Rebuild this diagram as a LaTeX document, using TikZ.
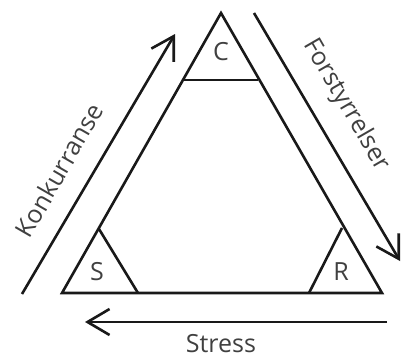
\documentclass[tikz,border=0pt]{standalone}
\usepackage{fontspec}
\setmainfont{Open Sans}
\usetikzlibrary{arrows.meta}
\begin{document}
\begin{tikzpicture}[x=1pt,y=-1pt,
  edge/.style={line width=2.6pt,draw=black!90,line join=miter},
  flow/.style={line width=2.6pt,draw=black!90,-{Straight Barb[length=22pt,width=26pt,line width=2.6pt]}},
  lbl/.style={text=black!75,font=\fontsize{25}{30}\selectfont,inner sep=0pt}]
\useasboundingbox (0,0) rectangle (403,359);
% triangle
\coordinate (A) at (221,13);
\coordinate (B) at (62,293);
\coordinate (D) at (382,293);
\coordinate (c1) at (184,80);
\coordinate (c2) at (258,80);
\coordinate (s1) at (99,229);
\coordinate (s2) at (138,293);
\coordinate (r1) at (342,228);
\coordinate (r2) at (309,293);
\draw[edge] (A) -- (B) -- (D) -- cycle;
\draw[edge] (c1) -- (c2);
\draw[edge] (s1) -- (s2);
\draw[edge] (r1) -- (r2);
% arrows
\coordinate (k0) at (22,294);
\coordinate (k1) at (175,34);
\coordinate (f0) at (254,13);
\coordinate (f1) at (400,261);
\coordinate (t0) at (387,322);
\coordinate (t1) at (85,322);
\draw[flow] (k0) -- (k1);
\draw[flow] (f0) -- (f1);
\draw[flow] (t0) -- (t1);
% labels
\node[lbl] (C) at (221,52) {C};
\node[lbl] (S) at (97,272) {S};
\node[lbl] (R) at (341,272) {R};
\node[lbl,rotate=60] (K) at (59,170) {Konkurranse};
\node[lbl,rotate=-60] (F) at (346,105) {Forstyrrelser};
\node[lbl] (St) at (221,344) {Stress};
\end{tikzpicture}
\end{document}
